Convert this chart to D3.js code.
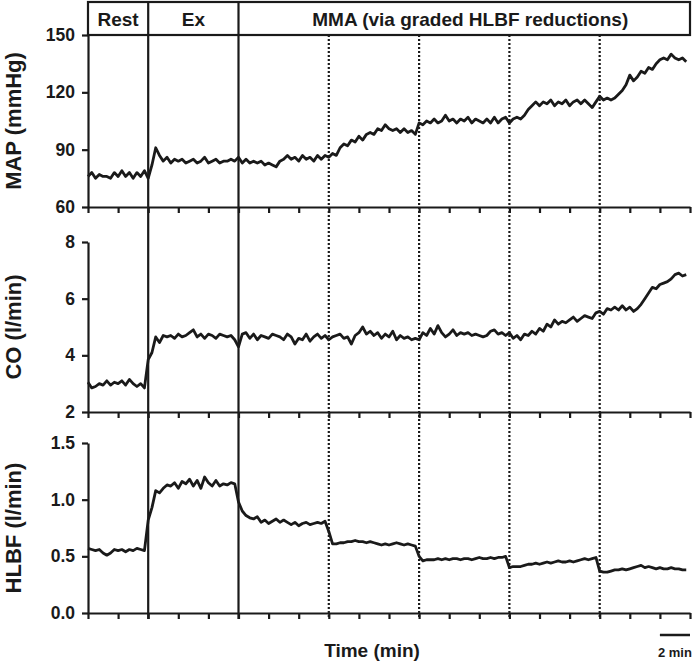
<!DOCTYPE html>
<html>
<head>
<meta charset="utf-8">
<script src="https://cdn.jsdelivr.net/npm/d3@7"></script>
<style>
  html, body { margin: 0; padding: 0; background: #fff; }
  svg { display: block; font-family: "Liberation Sans", Arial, sans-serif; }
</style>
</head>
<body>
<svg id="chart" width="697" height="664"></svg>
<script>
// ---- Data (sampled every 0.25 min) ----
const sampleStep = 0.25; // min
const xTicks = [0,2,4,6,8,10,12,14,16,18,20,22,24,26,28,30,32,34,36,38,40];
const phaseLabels = ["Rest", "Ex", "MMA (via graded HLBF reductions)"];
const phaseStarts = [0, 4, 10];
const phaseEnds = [4, 10, 40];
const solidDividers = [4, 10];
const dottedDividers = [16, 22, 28, 34];

const mapTicks = [60, 90, 120, 150];
const coTicks = [2, 4, 6, 8];
const hlbfTicks = [0.0, 0.5, 1.0, 1.5];

const mapValues = [
  76,78,75,77,76,76,75,78,76,79,76,78,75,78,76,79,
  75,82,91,87,84,86,83,85,84,85,83,84,85,83,84,86,83,84,85,83,84,84,85,84,
  86,83,85,83,84,83,84,82,83,82,81,84,85,87,85,86,84,87,85,86,84,87,85,87,
  86,88,87,91,93,92,95,94,97,95,98,99,98,101,100,103,101,100,101,99,101,99,100,98,
  104,103,105,104,106,104,105,108,105,106,104,106,105,107,104,106,105,104,106,104,107,104,106,107,
  104,106,107,106,108,111,113,115,113,115,114,116,113,115,114,116,113,115,116,114,116,114,112,115,
  118,116,117,116,117,119,121,124,129,126,128,131,130,133,132,135,137,138,137,140,138,137,138,136
];
const coValues = [
  3.05,2.85,2.9,3.0,2.95,3.1,2.95,3.05,3.0,3.1,2.95,3.15,3.0,2.9,3.0,2.85,
  3.85,4.1,4.65,4.45,4.7,4.65,4.7,4.6,4.75,4.65,4.7,4.8,4.9,4.65,4.75,4.6,4.75,4.7,4.6,4.75,4.7,4.65,4.7,4.55,
  4.3,4.75,4.8,4.6,4.75,4.55,4.7,4.65,4.6,4.75,4.7,4.65,4.55,4.75,4.65,4.4,4.6,4.55,4.75,4.5,4.65,4.75,4.6,4.7,
  4.55,4.65,4.7,4.75,4.6,4.65,4.4,4.7,4.8,5.0,4.75,4.85,4.7,4.8,4.6,4.75,4.65,4.85,4.55,4.7,4.6,4.65,4.55,4.6,
  4.55,4.8,4.7,4.95,4.75,5.05,4.8,4.65,4.75,4.9,4.7,4.8,4.75,4.8,4.7,4.75,4.7,4.65,4.7,4.85,4.9,4.75,4.8,4.7,
  4.8,4.6,4.7,4.55,4.75,4.7,4.85,4.75,4.95,4.85,5.1,5.0,5.25,5.1,5.2,5.15,5.25,5.35,5.2,5.3,5.4,5.35,5.3,5.5,
  5.55,5.45,5.65,5.6,5.7,5.6,5.75,5.6,5.7,5.55,5.65,5.8,6.0,6.2,6.4,6.35,6.5,6.55,6.6,6.7,6.85,6.9,6.8,6.85
];
const hlbfValues = [
  0.57,0.56,0.55,0.56,0.53,0.51,0.53,0.56,0.55,0.56,0.54,0.56,0.55,0.57,0.56,0.55,
  0.82,0.93,1.08,1.06,1.1,1.13,1.12,1.15,1.1,1.16,1.14,1.18,1.12,1.17,1.1,1.2,1.15,1.12,1.17,1.12,1.14,1.13,1.15,1.14,
  0.98,0.9,0.86,0.84,0.83,0.85,0.8,0.82,0.79,0.81,0.83,0.8,0.82,0.8,0.78,0.8,0.77,0.79,0.8,0.78,0.79,0.8,0.79,0.81,
  0.72,0.61,0.61,0.62,0.62,0.63,0.63,0.64,0.63,0.63,0.62,0.63,0.62,0.61,0.6,0.61,0.6,0.61,0.62,0.61,0.6,0.61,0.6,0.59,
  0.5,0.46,0.47,0.47,0.47,0.48,0.47,0.48,0.47,0.48,0.48,0.47,0.48,0.48,0.47,0.48,0.49,0.48,0.48,0.49,0.48,0.49,0.49,0.5,
  0.4,0.41,0.41,0.41,0.42,0.43,0.43,0.44,0.43,0.44,0.45,0.44,0.45,0.46,0.45,0.45,0.46,0.45,0.46,0.47,0.48,0.47,0.48,0.49,
  0.37,0.36,0.36,0.37,0.38,0.38,0.39,0.38,0.39,0.4,0.41,0.42,0.4,0.41,0.4,0.39,0.4,0.39,0.39,0.4,0.39,0.39,0.38,0.38
];

// ---- Drawing ----
const ink = "#1a1a1a";
const svg = d3.select("#chart");
const x = d3.scaleLinear().domain([0, 40]).range([88, 690]);

const panels = [
  { title: "MAP (mmHg)", values: mapValues, domain: [60, 150], range: [207, 35], ticks: mapTicks, fmt: d3.format("d") },
  { title: "CO (l/min)", values: coValues, domain: [2, 8], range: [412, 242], ticks: coTicks, fmt: d3.format("d") },
  { title: "HLBF (l/min)", values: hlbfValues, domain: [0, 1.5], range: [613, 443], ticks: hlbfTicks, fmt: d3.format(".1f") }
];

const headerTop = 2, headerBottom = 35, lineBottom = 619;

panels.forEach(p => {
  const y = d3.scaleLinear().domain(p.domain).range(p.range);
  const yAxis = svg.append("g")
    .attr("transform", `translate(${x(0)},0)`)
    .call(d3.axisLeft(y).tickValues(p.ticks).tickFormat(p.fmt).tickSize(6).tickSizeOuter(0).tickPadding(7));
  const xAxis = svg.append("g")
    .attr("transform", `translate(0,${p.range[0]})`)
    .call(d3.axisBottom(x).tickValues(xTicks).tickSize(6).tickSizeOuter(0).tickFormat(""));
  [yAxis, xAxis].forEach(g => {
    g.selectAll("path, line").attr("stroke", ink).attr("stroke-width", 2.2);
    g.selectAll("text").attr("fill", ink).style("font-size", "17.5px").style("font-weight", "bold")
      .style("font-family", '"Liberation Sans", Arial, sans-serif');
  });

  const line = d3.line()
    .x((d, i) => x(i * sampleStep))
    .y(d => y(d));
  svg.append("path")
    .datum(p.values)
    .attr("d", line)
    .attr("fill", "none")
    .attr("stroke", ink)
    .attr("stroke-width", 2.8)
    .attr("stroke-linejoin", "round");

  const cy = (p.range[0] + p.range[1]) / 2;
  svg.append("text")
    .attr("transform", `translate(21,${cy}) rotate(-90)`)
    .attr("text-anchor", "middle")
    .attr("fill", ink)
    .style("font-size", "22px").style("font-weight", "bold")
    .text(p.title);
});

// header box
svg.append("rect")
  .attr("x", x(0)).attr("y", headerTop)
  .attr("width", x(40) - x(0)).attr("height", headerBottom - headerTop)
  .attr("fill", "none").attr("stroke", ink).attr("stroke-width", 2.2);

phaseLabels.forEach((lab, i) => {
  svg.append("text")
    .attr("x", x((phaseStarts[i] + phaseEnds[i]) / 2) + (i === 2 ? 6 : 0))
    .attr("y", 26)
    .attr("text-anchor", "middle")
    .attr("fill", ink)
    .style("font-size", "19px").style("font-weight", "bold")
    .text(lab);
});

// dividers
svg.selectAll("line.solid").data(solidDividers).enter().append("line")
  .attr("x1", d => x(d)).attr("x2", d => x(d))
  .attr("y1", headerTop).attr("y2", lineBottom)
  .attr("stroke", ink).attr("stroke-width", 2.2);

svg.selectAll("line.dotted").data(dottedDividers).enter().append("line")
  .attr("x1", d => x(d)).attr("x2", d => x(d))
  .attr("y1", headerBottom).attr("y2", lineBottom)
  .attr("stroke", ink).attr("stroke-width", 2.2).attr("stroke-dasharray", "2,2");

// x title
svg.append("text")
  .attr("x", 372).attr("y", 657)
  .attr("text-anchor", "middle")
  .attr("fill", ink)
  .style("font-size", "19px").style("font-weight", "bold")
  .text("Time (min)");

// scale bar
svg.append("line")
  .attr("x1", x(38)).attr("x2", x(40))
  .attr("y1", 635).attr("y2", 635)
  .attr("stroke", ink).attr("stroke-width", 2.5);
svg.append("text")
  .attr("x", (x(38) + x(40)) / 2).attr("y", 657)
  .attr("text-anchor", "middle")
  .attr("fill", ink)
  .style("font-size", "13px").style("font-weight", "bold")
  .text("2 min");
</script>
</body>
</html>
